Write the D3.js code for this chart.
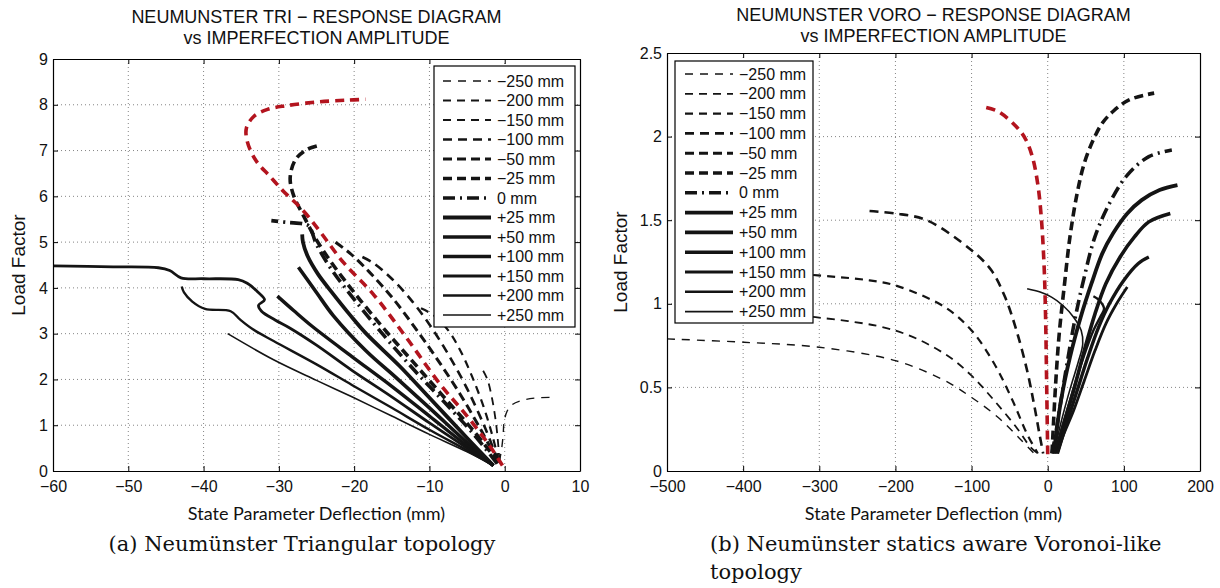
<!DOCTYPE html>
<html>
<head>
<meta charset="utf-8">
<script src="https://cdn.jsdelivr.net/npm/d3@7"></script>
<style>
  body { margin: 0; background: #fff; }
  svg text { font-family: "Liberation Sans", Arial, sans-serif; fill: #111; }
</style>
</head>
<body>
<svg id="fig" width="1220" height="588"></svg>
<script>
// Legend entries (same order in both panels)
const LABELS = ["\u2212250 mm", "\u2212200 mm", "\u2212150 mm", "\u2212100 mm", "\u221250 mm", "\u221225 mm",
  "0 mm", "+25 mm", "+50 mm", "+100 mm", "+150 mm", "+200 mm", "+250 mm"];

// Tick labels
const TRI_X_TICKS = [-60, -50, -40, -30, -20, -10, 0, 10];
const TRI_X_LABELS = ["\u221260", "\u221250", "\u221240", "\u221230", "\u221220", "\u221210", "0", "10"];
const TRI_Y_TICKS = [0, 1, 2, 3, 4, 5, 6, 7, 8, 9];
const TRI_Y_LABELS = ["0", "1", "2", "3", "4", "5", "6", "7", "8", "9"];
const VORO_X_TICKS = [-500, -400, -300, -200, -100, 0, 100, 200];
const VORO_X_LABELS = ["\u2212500", "\u2212400", "\u2212300", "\u2212200", "\u2212100", "0", "100", "200"];
const VORO_Y_TICKS = [0, 0.5, 1, 1.5, 2, 2.5];
const VORO_Y_LABELS = ["0", "0.5", "1", "1.5", "2", "2.5"];

// ---- Triangular topology: [deflection (mm), load factor]
const triM250 = [[-0.7,0.2],[-0.4,0.5],[-0.2,0.8],[-0.1,1.05],[0.3,1.3],[1.0,1.45],[2.5,1.55],[4.5,1.6],[6.5,1.61]];
const triM200 = [[-0.7,0.22],[-0.9,0.65],[-1.2,1.1],[-1.7,1.6],[-2.3,2.0],[-2.9,2.2]];
const triM150 = [[-0.8,0.22],[-1.6,0.75],[-2.8,1.4],[-4.3,2.05],[-5.8,2.6],[-7.4,3.05],[-9.4,3.4],[-11.5,3.58]];
const triM100 = [[-0.9,0.22],[-2.5,0.9],[-5,1.8],[-7.5,2.55],[-10,3.2],[-12.5,3.75],[-15,4.2],[-17.5,4.55],[-19.5,4.72]];
const triM50 = [[-0.9,0.2],[-3,0.85],[-6,1.7],[-9,2.45],[-12,3.15],[-15,3.8],[-18,4.35],[-20.5,4.75],[-22.5,5.0]];
const triM25 = [[-0.8,0.18],[-4,0.85],[-8,1.6],[-12,2.35],[-16,3.1],[-20,3.9],[-23,4.55],[-25.2,5.1],[-26.8,5.6],
  [-28,6.0],[-28.5,6.4],[-27.8,6.8],[-26.3,7.02],[-24.5,7.12]];
const triZero = [[-1.0,0.16],[-4,0.78],[-8,1.5],[-12,2.2],[-16,2.95],[-20,3.75],[-23,4.4],[-25,4.95],[-26,5.35],
  [-26.8,5.4],[-28.8,5.43],[-31,5.47]];
const triP25 = [[-1.5,0.12],[-5,0.72],[-10,1.6],[-14,2.3],[-18.4,3.0],[-20.5,3.4],[-22.8,3.87],[-24.8,4.3],[-26.2,4.7],
  [-26.8,5.0],[-26.9,5.17]];
const triP50 = [[-1.5,0.12],[-5,0.62],[-10,1.38],[-14.5,2.05],[-18.4,2.62],[-22.8,3.4],[-25,3.9],[-27.4,4.45]];
const triP100 = [[-1.5,0.12],[-5,0.55],[-10,1.2],[-15,1.85],[-20.3,2.5],[-25.5,3.15],[-28,3.5],[-30.2,3.82]];
const triP150 = [[-1.5,0.12],[-5,0.5],[-10,1.05],[-15,1.62],[-20.3,2.2],[-25,2.75],[-28.5,3.12],[-30.5,3.3],[-32.3,3.49],
  [-32.7,3.62],[-31.9,3.74],[-32.8,3.91],[-34.2,4.1],[-35.4,4.18],[-40,4.2],[-43,4.22],[-44.5,4.38],[-46,4.44],
  [-52,4.46],[-60,4.48]];
const triP200 = [[-1.5,0.12],[-5,0.45],[-10,0.9],[-15,1.38],[-20.3,1.88],[-25,2.33],[-30.7,2.84],[-33.5,3.1],[-35.1,3.3],
  [-36.4,3.49],[-39.8,3.54],[-41.5,3.7],[-42.6,3.9],[-42.9,4.03]];
const triP250 = [[-1.5,0.12],[-5,0.42],[-10,0.8],[-15,1.2],[-20.3,1.62],[-25,1.98],[-30.7,2.43],[-36.8,3.0]];
// red curve (not in legend)
const triRed = [[-0.3,0.12],[-2,0.55],[-5,1.2],[-8.6,1.9],[-13,2.9],[-17.5,3.87],[-21.4,4.55],[-24.3,5.18],[-26,5.54],
  [-27.6,5.83],[-29.4,6.11],[-31.2,6.44],[-33,6.77],[-34.2,7.2],[-34.3,7.5],[-33.3,7.75],[-31.5,7.9],[-29,7.98],
  [-25,8.06],[-21,8.1],[-18.5,8.12]];

// ---- Voronoi-like topology
const voroM250 = [[-500,0.79],[-399,0.77],[-300,0.74],[-200,0.66],[-135,0.54],[-100,0.44],[-65,0.32],[-37,0.195],[-18,0.105]];
const voroM200 = [[-400,0.95],[-305,0.92],[-200,0.84],[-135,0.70],[-100,0.57],[-70,0.42],[-41,0.26],[-23,0.145],[-13,0.105]];
const voroM150 = [[-400,1.2],[-302,1.17],[-234,1.14],[-200,1.11],[-135,0.98],[-100,0.84],[-70,0.64],[-46,0.42],[-27,0.22],[-13,0.105]];
const voroM100 = [[-234,1.555],[-200,1.54],[-159,1.50],[-100,1.32],[-74,1.20],[-56,1.04],[-41,0.84],[-27,0.60],[-18,0.40],
  [-11,0.225],[-6,0.105]];
const voroM50 = null;
const voroM25 = [[5.6,0.105],[10.4,0.52],[15.1,0.82],[22.1,1.12],[29.2,1.40],[38.6,1.66],[48,1.84],[59.8,1.98],[71.6,2.08],
  [85.7,2.15],[106.9,2.22],[139.8,2.26]];
const voroZero = [[5.6,0.105],[10.4,0.22],[17.4,0.42],[26.8,0.68],[36.3,0.92],[48,1.16],[62,1.40],[81,1.60],[104.5,1.77],
  [132.8,1.88],[163,1.92]];
const voroP25 = [[8,0.105],[17.4,0.42],[29.2,0.68],[43.3,0.92],[57.4,1.12],[71.6,1.30],[85.7,1.42],[104.5,1.54],[123.4,1.62],
  [146.9,1.68],[170.4,1.71]];
const voroP50 = [[10.4,0.105],[19.8,0.26],[33.9,0.48],[48,0.72],[62.1,0.94],[76.3,1.12],[95.1,1.28],[113.9,1.40],[132.8,1.49],
  [161,1.54]];
const voroP100 = [[12.7,0.105],[24.5,0.28],[38.6,0.48],[52.7,0.68],[66.9,0.86],[81,1.00],[99.8,1.14],[118.6,1.24],[132.8,1.28]];
const voroP150 = [[12.7,0.105],[19.8,0.205],[33.9,0.36],[48,0.54],[62.1,0.72],[76.3,0.88],[90.4,1.00],[104.5,1.10]];
const voroP200 = [[9,0.105],[20,0.28],[33,0.48],[47,0.68],[60,0.84],[70,0.93],[74,0.97],[68,1.02],[60,1.045]];
const voroP250 = [[8,0.105],[18,0.3],[30,0.5],[40,0.65],[46,0.76],[44,0.84],[34,0.92],[20,0.99],[5,1.04],[-10,1.07],[-27,1.09]];
const voroRed = [[0,0.1],[-1.4,0.52],[-2.8,0.92],[-4.7,1.22],[-8.5,1.52],[-13.2,1.72],[-20.2,1.88],[-29.7,1.99],[-41.4,2.06],
  [-65,2.15],[-86,2.18]];

const triSeries = [triM250, triM200, triM150, triM100, triM50, triM25, triZero, triP25, triP50, triP100, triP150, triP200, triP250];
const voroSeries = [voroM250, voroM200, voroM150, voroM100, voroM50, voroM25, voroZero, voroP25, voroP50, voroP100, voroP150, voroP200, voroP250];

// Line styles per legend entry
const LINE_W = [1.4, 1.8, 2.2, 2.6, 3.0, 3.6, 3.6, 3.8, 3.6, 3.4, 2.8, 2.4, 1.6];
const LINE_DASH = ["8,7", "8,6", "8,6", "9,6", "9,5", "9,5", "12,5,2,5", null, null, null, null, null, null];
const INK = "#141414";
const RED = "#b3141e";

const svg = d3.select("#fig");
svg.append("rect").attr("width", 1220).attr("height", 588).attr("fill", "#fff");

function drawPanel(p) {
  const x = d3.scaleLinear().domain(p.xDomain).range([p.left, p.right]);
  const y = d3.scaleLinear().domain(p.yDomain).range([p.bottom, p.top]);
  const g = svg.append("g");

  g.append("clipPath").attr("id", p.id + "-clip")
    .append("rect")
    .attr("x", p.left).attr("y", p.top)
    .attr("width", p.right - p.left).attr("height", p.bottom - p.top);

  // dotted grid
  const grid = g.append("g").attr("stroke", "#777").attr("stroke-width", 0.9).attr("stroke-dasharray", "1,3");
  grid.selectAll(".gx").data(p.xTicks.slice(1, -1)).join("line")
    .attr("x1", d => x(d)).attr("x2", d => x(d)).attr("y1", p.top).attr("y2", p.bottom);
  grid.selectAll(".gy").data(p.yTicks.slice(1, -1)).join("line")
    .attr("y1", d => y(d)).attr("y2", d => y(d)).attr("x1", p.left).attr("x2", p.right);

  // curves
  const line = d3.line().x(d => x(d[0])).y(d => y(d[1])).curve(d3.curveCatmullRom.alpha(0.5));
  const plot = g.append("g").attr("clip-path", `url(#${p.id}-clip)`).attr("fill", "none");
  p.series.forEach((s, i) => {
    if (!s) return;
    plot.append("path").datum(s).attr("d", line)
      .attr("stroke", INK).attr("stroke-width", LINE_W[i])
      .attr("stroke-dasharray", LINE_DASH[i]);
  });
  plot.append("path").datum(p.red).attr("d", line)
    .attr("stroke", RED).attr("stroke-width", 3.6).attr("stroke-dasharray", "9,6");

  // axes (ticks inside, box on)
  const styleAxis = sel => {
    sel.attr("font-family", null).attr("font-size", null);
    sel.select(".domain").attr("stroke", "#000").attr("stroke-width", 1.2);
    sel.selectAll(".tick line").attr("stroke", "#000");
    sel.selectAll(".tick text").style("font-size", "16px");
  };
  g.append("g").attr("transform", `translate(0,${p.bottom})`)
    .call(d3.axisBottom(x).tickValues(p.xTicks).tickFormat((d, i) => p.xLabels[i])
      .tickSizeInner(-5).tickSizeOuter(0).tickPadding(10))
    .call(styleAxis);
  g.append("g").attr("transform", `translate(0,${p.top})`)
    .call(d3.axisTop(x).tickValues(p.xTicks).tickFormat("").tickSizeInner(-5).tickSizeOuter(0))
    .call(styleAxis);
  g.append("g").attr("transform", `translate(${p.left},0)`)
    .call(d3.axisLeft(y).tickValues(p.yTicks).tickFormat((d, i) => p.yLabels[i])
      .tickSizeInner(-5).tickSizeOuter(0).tickPadding(5))
    .call(styleAxis);
  g.append("g").attr("transform", `translate(${p.right},0)`)
    .call(d3.axisRight(y).tickValues(p.yTicks).tickFormat("").tickSizeInner(-5).tickSizeOuter(0))
    .call(styleAxis);

  // titles
  const cx = (p.left + p.right) / 2;
  g.append("text").attr("x", cx).attr("y", p.titleY).attr("text-anchor", "middle")
    .style("font-size", "18px").text(p.title[0]);
  g.append("text").attr("x", cx).attr("y", p.titleY + 21).attr("text-anchor", "middle")
    .style("font-size", "18px").text(p.title[1]);

  g.append("text").attr("x", cx).attr("y", 520).attr("text-anchor", "middle")
    .style("font-family", "Lato, 'Open Sans', sans-serif").style("font-size", "18px")
    .text("State Parameter Deflection (mm)");

  g.append("text")
    .attr("transform", `translate(${p.yLabelX},${(p.top + p.bottom) / 2}) rotate(-90)`)
    .attr("text-anchor", "middle").attr("dy", "0.35em")
    .style("font-size", "19px").text("Load Factor");

  // legend
  const L = p.legend;
  const lg = g.append("g");
  lg.append("rect").attr("x", L.x).attr("y", L.y).attr("width", L.w).attr("height", L.h)
    .attr("fill", "#fff").attr("stroke", "#000").attr("stroke-width", 1.2);
  LABELS.forEach((lab, i) => {
    const yy = L.rowY + i * L.step;
    lg.append("line").attr("x1", L.sx0).attr("x2", L.sx1).attr("y1", yy).attr("y2", yy)
      .attr("stroke", INK).attr("stroke-width", LINE_W[i]).attr("stroke-dasharray", LINE_DASH[i]);
    lg.append("text").attr("x", L.tx).attr("y", yy).attr("dy", "0.35em")
      .style("font-size", "16px").text(lab);
  });

  // caption
  p.caption.forEach((c, i) => {
    g.append("text").attr("x", p.capX).attr("y", 551 + i * 28)
      .attr("text-anchor", p.capAnchor)
      .style("font-family", "'DejaVu Serif', serif").style("font-size", "21px")
      .text(c);
  });
}

drawPanel({
  id: "tri", left: 53, right: 580, top: 59, bottom: 471,
  xDomain: [-60, 10], yDomain: [0, 9],
  xTicks: TRI_X_TICKS, xLabels: TRI_X_LABELS, yTicks: TRI_Y_TICKS, yLabels: TRI_Y_LABELS,
  series: triSeries, red: triRed,
  title: ["NEUMUNSTER TRI \u2212 RESPONSE DIAGRAM", "vs IMPERFECTION AMPLITUDE"], titleY: 23,
  yLabelX: 18,
  legend: { x: 434, y: 66, w: 141, h: 261, rowY: 81, step: 19.5, sx0: 443, sx1: 491, tx: 497 },
  caption: ["(a) Neum\u00fcnster Triangular topology"], capX: 302, capAnchor: "middle"
});

drawPanel({
  id: "voro", left: 667, right: 1200, top: 53, bottom: 471,
  xDomain: [-500, 200], yDomain: [0, 2.5],
  xTicks: VORO_X_TICKS, xLabels: VORO_X_LABELS, yTicks: VORO_Y_TICKS, yLabels: VORO_Y_LABELS,
  series: voroSeries, red: voroRed,
  title: ["NEUMUNSTER VORO \u2212 RESPONSE DIAGRAM", "vs IMPERFECTION AMPLITUDE"], titleY: 21,
  yLabelX: 620,
  legend: { x: 675, y: 61, w: 138, h: 262, rowY: 74, step: 19.8, sx0: 685, sx1: 733, tx: 739 },
  caption: ["(b) Neum\u00fcnster statics aware Voronoi-like", "topology"], capX: 710, capAnchor: "start"
});
</script>
</body>
</html>
